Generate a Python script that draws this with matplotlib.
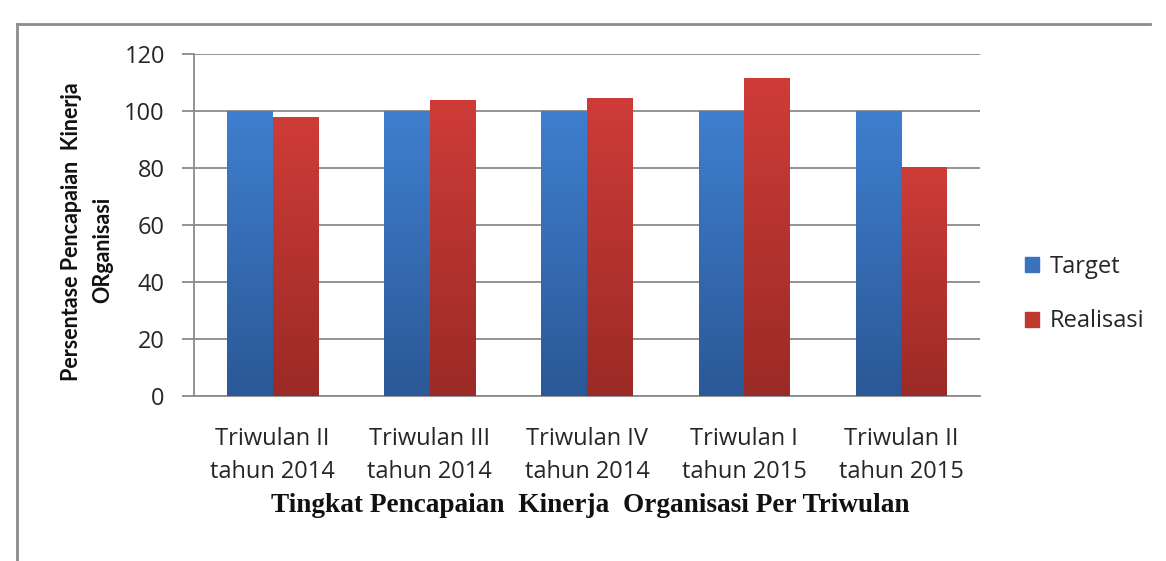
import matplotlib
matplotlib.use("Agg")
import matplotlib.pyplot as plt
import numpy as np
from matplotlib.colors import LinearSegmentedColormap
from matplotlib.lines import Line2D
from matplotlib.patches import Rectangle

categories = ["Triwulan II\ntahun 2014", "Triwulan III\ntahun 2014", "Triwulan IV\ntahun 2014",
              "Triwulan I\ntahun 2015", "Triwulan II\ntahun 2015"]
target = [100, 100, 100, 100, 100]
realisasi = [98, 104, 104.7, 111.6, 80.5]
series_names = ["Target", "Realisasi"]
yticks = [0, 20, 40, 60, 80, 100, 120]

W, H = 1166, 561
fig = plt.figure(figsize=(W / 100, H / 100), dpi=100)
fig.patch.set_facecolor("white")
ax = fig.add_axes([194 / W, (H - 396) / H, (980 - 194) / W, (396 - 54) / H])

x = np.arange(len(categories))
bw = 0.29
blue_cmap = LinearSegmentedColormap.from_list("b", ["#2b5896", "#3f7fcf"])
red_cmap = LinearSegmentedColormap.from_list("r", ["#9b2a26", "#cf3c38"])

grad = np.linspace(0, 1, 256).reshape(-1, 1)

def gradient_bars(xs, vals, cmap, solid):
    bars = ax.bar(xs, vals, width=bw, color=solid, edgecolor="none", zorder=3)
    for b in bars:
        x0, y0 = b.get_x(), b.get_y()
        w, h = b.get_width(), b.get_height()
        im = ax.imshow(grad, extent=(x0, x0 + w, y0, y0 + h), origin="lower",
                       cmap=cmap, aspect="auto", zorder=3.5, interpolation="bilinear")
        im.set_clip_path(b)
    return bars

gradient_bars(x - bw / 2, target, blue_cmap, "#3a73bd")
gradient_bars(x + bw / 2, realisasi, red_cmap, "#c0392f")

tick_color = "#262626"
ax.set_xlim(-0.5, len(categories) - 0.5)
ax.set_ylim(0, 120)
ax.set_yticks(yticks)
ax.set_xticks(x)
ax.set_xticklabels(categories, fontsize=17, family="Open Sans", color=tick_color,
                   linespacing=1.5)
ax.set_yticklabels([str(v) for v in yticks], fontsize=17, family="Open Sans", color=tick_color)
ax.tick_params(axis="x", length=0, pad=22)
ax.tick_params(axis="y", length=9, width=1.3, color="#8a8a8a", pad=12)

ax.grid(axis="y", color="#8a8a8a", linewidth=1.3, zorder=0)
ax.set_axisbelow(True)
for s in ["top", "right"]:
    ax.spines[s].set_visible(False)
for s in ["left", "bottom"]:
    ax.spines[s].set_color("#8a8a8a")
    ax.spines[s].set_linewidth(1.3)

# axis titles
fig.text(590 / W, 1 - 505 / H, "Tingkat Pencapaian  Kinerja  Organisasi Per Triwulan",
         family="Liberation Serif", fontweight="bold", fontsize=19.6, color="#111111",
         ha="center", va="center")
fig.text(72 / W, 1 - 232 / H, "Persentase Pencapaian  Kinerja", rotation=90,
         family="Lato", fontweight="bold", fontsize=15.5, color="#111111",
         ha="center", va="center")
fig.text(103 / W, 1 - 250 / H, "ORganisasi", rotation=90,
         family="Lato", fontweight="bold", fontsize=15.5, color="#111111",
         ha="center", va="center")

# legend
handles = [Rectangle((0, 0), 1, 1, color="#3a73bd"), Rectangle((0, 0), 1, 1, color="#c0392f")]
leg = fig.legend(handles, series_names, loc="center left", bbox_to_anchor=(1004 / W, 1 - 294 / H),
                 frameon=False, prop={"family": "Open Sans", "size": 17},
                 handlelength=0.6, handleheight=0.6, handletextpad=0.45, labelspacing=1.3)
for t in leg.get_texts():
    t.set_color(tick_color)

# outer chart border (top and left visible)
fig.add_artist(Line2D([17 / W, 1150 / W], [1 - 24 / H, 1 - 24 / H], transform=fig.transFigure,
                      color="#8c8c8c", linewidth=2))
fig.add_artist(Line2D([17 / W, 17 / W], [1 - 24 / H, 0], transform=fig.transFigure,
                      color="#8c8c8c", linewidth=2))

fig.savefig("out.png", dpi=100, facecolor="white")
